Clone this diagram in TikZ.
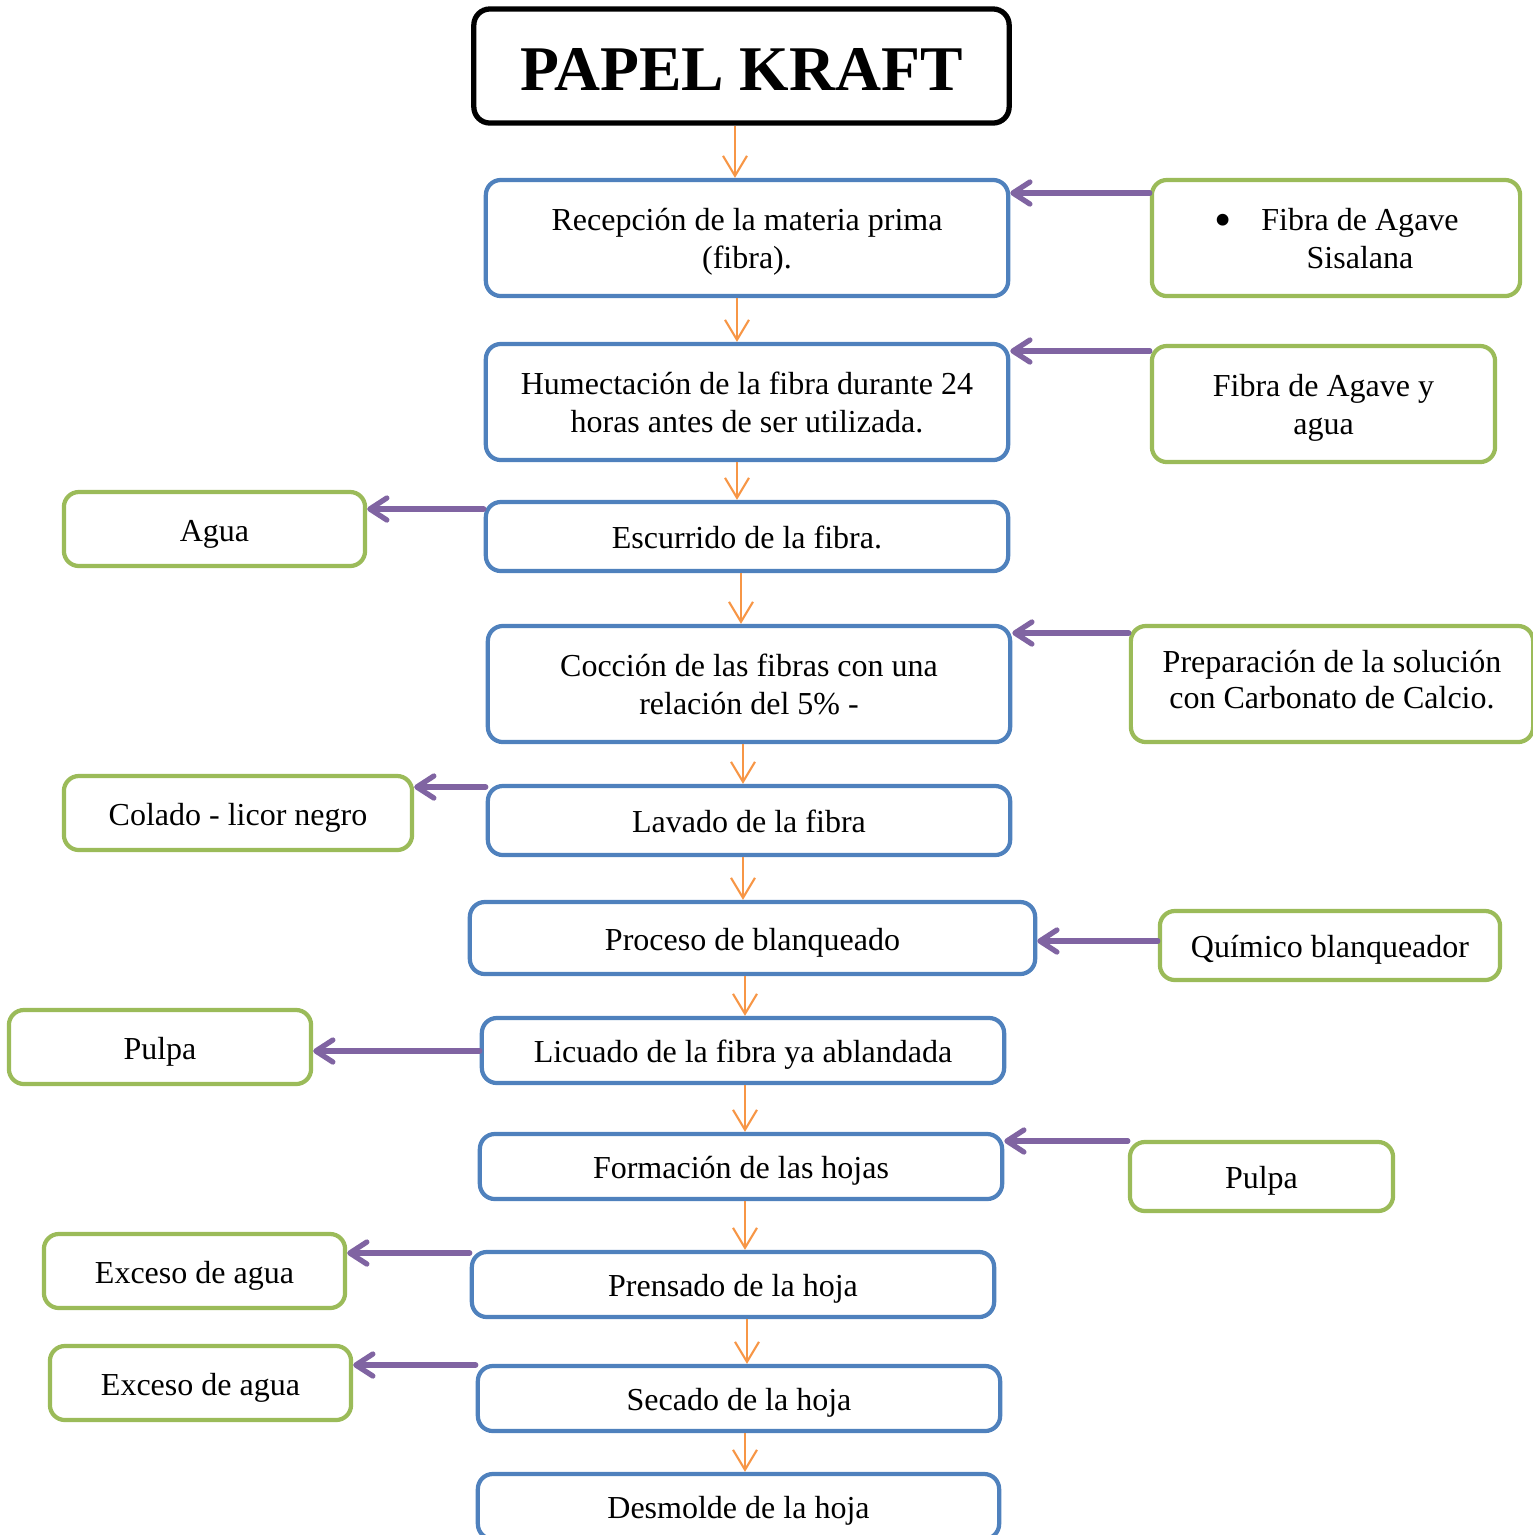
\documentclass[tikz,border=0pt]{standalone}
\usepackage{fontspec}
\setmainfont{Liberation Serif}
\usetikzlibrary{arrows.meta,positioning}
\definecolor{pblue}{HTML}{4F81BD}
\definecolor{pgreen}{HTML}{9BBB59}
\definecolor{ppurple}{HTML}{8064A2}
\definecolor{porange}{HTML}{F79646}
\newcommand\pilar{\rule[-0.27em]{0pt}{1.3em}}
\newcommand\techo{\rule{0pt}{0.97em}}

\begin{document}
\begin{tikzpicture}[% pixel grid of the scanned chart
				x=0.01cm,y=-0.01cm,
				every node/.style={
					align=center,		% "\\" breaks lines
					inner sep=0pt,
					font=\fontsize{9.1}{10.8}\selectfont
				},
				paso/.style={rectangle,rounded corners=0.15cm,draw=pblue,line width=1.2pt,fill=white,execute at end node=\pilar},
				aux/.style={rectangle,rounded corners=0.15cm,draw=pgreen,line width=1.2pt,fill=white,execute at end node=\pilar},
				flujo/.style={draw=porange,line width=0.6pt,-{Straight Barb[length=0.2cm,width=0.24cm]}},
				lado/.style={draw=ppurple,line width=1.5pt,line cap=round,-{Straight Barb[length=0.17cm,width=0.22cm,round]}}
			]
			\useasboundingbox (0,0) rectangle (1533,1535);
			\clip (0,0) rectangle (1533,1535);
			% title
			\node[rectangle,rounded corners=0.16cm,draw=black,line width=1.5pt,minimum width=5.35cm,minimum height=1.14cm,
				font=\fontsize{18.1}{22}\selectfont\bfseries,execute at begin node={\rule{0pt}{0.76em}}](T) at (741.5,66){PAPEL KRAFT};
			% main steps
			\node[paso,minimum width=5.22cm,minimum height=1.16cm](P1) at (747,238){\techo Recepción de la materia prima\\(fibra).};
			\node[paso,minimum width=5.22cm,minimum height=1.16cm](P2) at (747,402){\techo Humectación de la fibra durante 24\\horas antes de ser utilizada.};
			\node[paso,minimum width=5.22cm,minimum height=0.69cm](P3) at (747,536.5){Escurrido de la fibra.};
			\node[paso,minimum width=5.22cm,minimum height=1.16cm](P4) at (749,684){\techo Cocción de las fibras con una\\relación del 5\% -};
			\node[paso,minimum width=5.22cm,minimum height=0.69cm](P5) at (749,820.5){Lavado de la fibra};
			\node[paso,minimum width=5.65cm,minimum height=0.72cm](P6) at (752.5,938){Proceso de blanqueado};
			\node[paso,minimum width=5.22cm,minimum height=0.65cm](P7) at (743,1050.5){Licuado de la fibra ya ablandada};
			\node[paso,minimum width=5.22cm,minimum height=0.65cm](P8) at (741,1166.5){Formación de las hojas};
			\node[paso,minimum width=5.22cm,minimum height=0.65cm](P9) at (733,1284.5){Prensado de la hoja};
			\node[paso,minimum width=5.22cm,minimum height=0.65cm](P10) at (739,1398.5){Secado de la hoja};
			\node[paso,minimum width=5.21cm,minimum height=0.65cm](P11) at (738.5,1506.5){Desmolde de la hoja};
			% inputs and outputs
			\node[aux,minimum width=3.68cm,minimum height=1.16cm](S1) at (1336,238){\techo\hspace*{0.48cm}\llap{\raisebox{-0.2em}{\fontsize{14}{10}\selectfont\textbullet}\hspace{0.3cm}}Fibra de Agave\\\hspace*{0.48cm}Sisalana};
			\node[aux,minimum width=3.43cm,minimum height=1.16cm](S2) at (1323.5,404){\techo Fibra de Agave y\\agua};
			\node[aux,minimum width=3.01cm,minimum height=0.74cm](S3) at (214.5,529){Agua};
			\node[aux,minimum width=4.02cm,minimum height=1.16cm,font=\fontsize{9.1}{10.2}\selectfont](S4) at (1332,684){Preparación de la solución\\con Carbonato de Calcio.};
			\node[aux,minimum width=3.48cm,minimum height=0.74cm](S5) at (238,813){Colado - licor negro};
			\node[aux,minimum width=3.40cm,minimum height=0.69cm](S6) at (1330,945.5){Químico blanqueador};
			\node[aux,minimum width=3.02cm,minimum height=0.74cm](S7) at (160,1047){Pulpa};
			\node[aux,minimum width=2.63cm,minimum height=0.69cm](S8) at (1261.5,1176.5){Pulpa};
			\node[aux,minimum width=3.01cm,minimum height=0.74cm](S9) at (194.5,1271){Exceso de agua};
			\node[aux,minimum width=3.01cm,minimum height=0.74cm](S10) at (200.5,1383){Exceso de agua};
			% main flow
			\foreach \a/\b/\x in {T/P1/735,P1/P2/737,P2/P3/737,P3/P4/741,P4/P5/743,P5/P6/743,P6/P7/745,P7/P8/745,P8/P9/745,P9/P10/747,P10/P11/745}
				\draw[flujo] (\x,0 |- \a.south) -- (\x,0 |- \b.north);
			% inputs (right)
			\foreach \s/\p/\y in {S1/P1/193,S2/P2/351,S4/P4/633,S6/P6/941,S8/P8/1141}
				\draw[lado] (\s.west |- 0,\y) -- (\p.east |- 0,\y);
			% outputs (left)
			\foreach \p/\s/\y in {P3/S3/509,P5/S5/787,P7/S7/1051,P9/S9/1253,P10/S10/1365}
				\draw[lado] (\p.west |- 0,\y) -- (\s.east |- 0,\y);
		\end{tikzpicture}
\end{document}
